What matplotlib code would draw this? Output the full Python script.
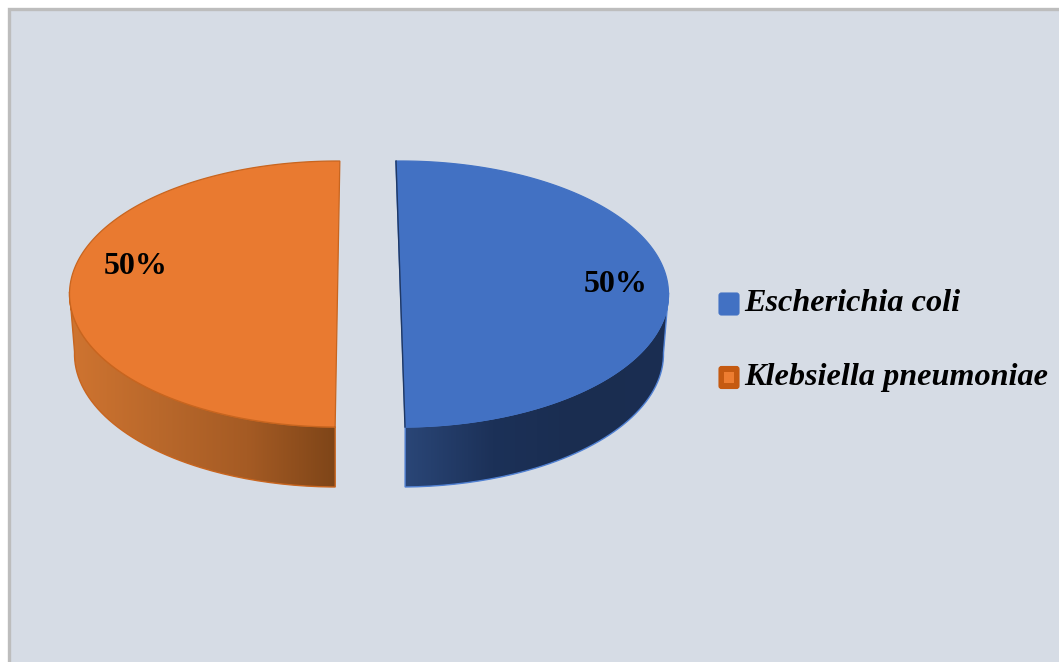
import numpy as np
import matplotlib.pyplot as plt
from matplotlib.colors import LinearSegmentedColormap
from matplotlib.patches import FancyBboxPatch, PathPatch, Rectangle
from matplotlib.path import Path

categories = ['Escherichia coli', 'Klebsiella pneumoniae']
shares = [50, 50]
percent_labels = ['50%', '50%']
top_colors = ['#4271C3', '#E97A30']
top_edges = ['#4271C3', '#C8651F']
side_edges = ['#5080D2', '#C8651F']
side_colors = [['#2A4677', '#1C3158', '#1A2D50', '#1B2E52'],
               ['#CF7430', '#B9682B', '#A55B24', '#7E4518']]

plt.rcParams['font.family'] = ['Liberation Serif', 'DejaVu Serif']

fig = plt.figure(figsize=(10.59, 6.62), dpi=100)
ax = fig.add_axes([0, 0, 1, 1])
ax.set_xlim(0, 1059)
ax.set_ylim(662, 0)
ax.axis('off')

# chart area with its grey frame on the top and left
ax.add_patch(Rectangle((9, 9), 1060, 660, fc='#D6DCE5', ec='#BDBDBD', lw=2.4))

# slices go clockwise from the top of the ellipse, each pulled out sideways
centers = [(400.5, 294), (337.5, 294)]
rx, ry = 268, 133
depth = 60
shrink = 5
starts = [-1.0, 180.5]
total = sum(shares)


def ring(cx, cy, a, b, phi):
    return np.column_stack([cx + a * np.sin(phi), cy - b * np.cos(phi)])


for i in range(len(shares)):
    cx, cy = centers[i]
    sweep = shares[i] / total * 360
    phi = np.radians(np.linspace(starts[i], starts[i] + sweep, 200))

    # side wall, only the part facing the viewer
    front = phi[(np.cos(phi) <= 0.02)]
    upper = ring(cx, cy, rx, ry, front)
    lower = ring(cx, cy + depth, rx - shrink, ry, front)
    side = np.vstack([upper, lower[::-1], upper[:1]])
    side_path = Path(side)
    cmap = LinearSegmentedColormap.from_list('side%d' % i, side_colors[i])
    x0, x1 = side[:, 0].min(), side[:, 0].max()
    im = ax.imshow(np.linspace(0, 1, 256).reshape(1, -1), cmap=cmap, aspect='auto',
                   extent=(x0, x1, side[:, 1].max(), side[:, 1].min()), zorder=2)
    side_patch = PathPatch(side_path, fc='none', ec=side_edges[i], lw=1.0, zorder=3)
    ax.add_patch(side_patch)
    im.set_clip_path(side_patch)

    # top face
    top = np.vstack([ring(cx, cy, rx, ry, phi), [[cx, cy]]])
    ax.add_patch(PathPatch(Path(np.vstack([top, top[:1]])), fc=top_colors[i],
                           ec=top_edges[i], lw=0.9, zorder=4))

ax.set_xlim(0, 1059)
ax.set_ylim(662, 0)

# dark cut face just visible beside the blue slice
ax.plot([396, 405], [161, 427], color='#1F3864', lw=1.0, zorder=5)

ax.text(135.5, 267, percent_labels[1], fontsize=23, fontweight='bold', color='black',
        ha='center', va='center', zorder=6)
ax.text(615.5, 284, percent_labels[0], fontsize=23, fontweight='bold', color='black',
        ha='center', va='center', zorder=6)

# legend
legend_y = [304, 377.5]
swatch_colors = ['#4271C3', '#C55A11']
for i in range(len(categories)):
    ax.add_patch(FancyBboxPatch((719, legend_y[i] - 11), 20, 22, boxstyle='round,pad=0,rounding_size=2.5',
                                fc=swatch_colors[i], ec=swatch_colors[i], lw=0.8, zorder=4))
    ax.text(744, legend_y[i] - 0.5, categories[i], fontsize=23.2, fontstyle='italic', fontweight='bold',
            color='black', ha='left', va='center', zorder=6)
ax.add_patch(Rectangle((724, legend_y[1] - 5.5), 10, 11, fc='#ED7D31', ec='none', zorder=5))

fig.savefig('out.png', dpi=100, facecolor='white')
